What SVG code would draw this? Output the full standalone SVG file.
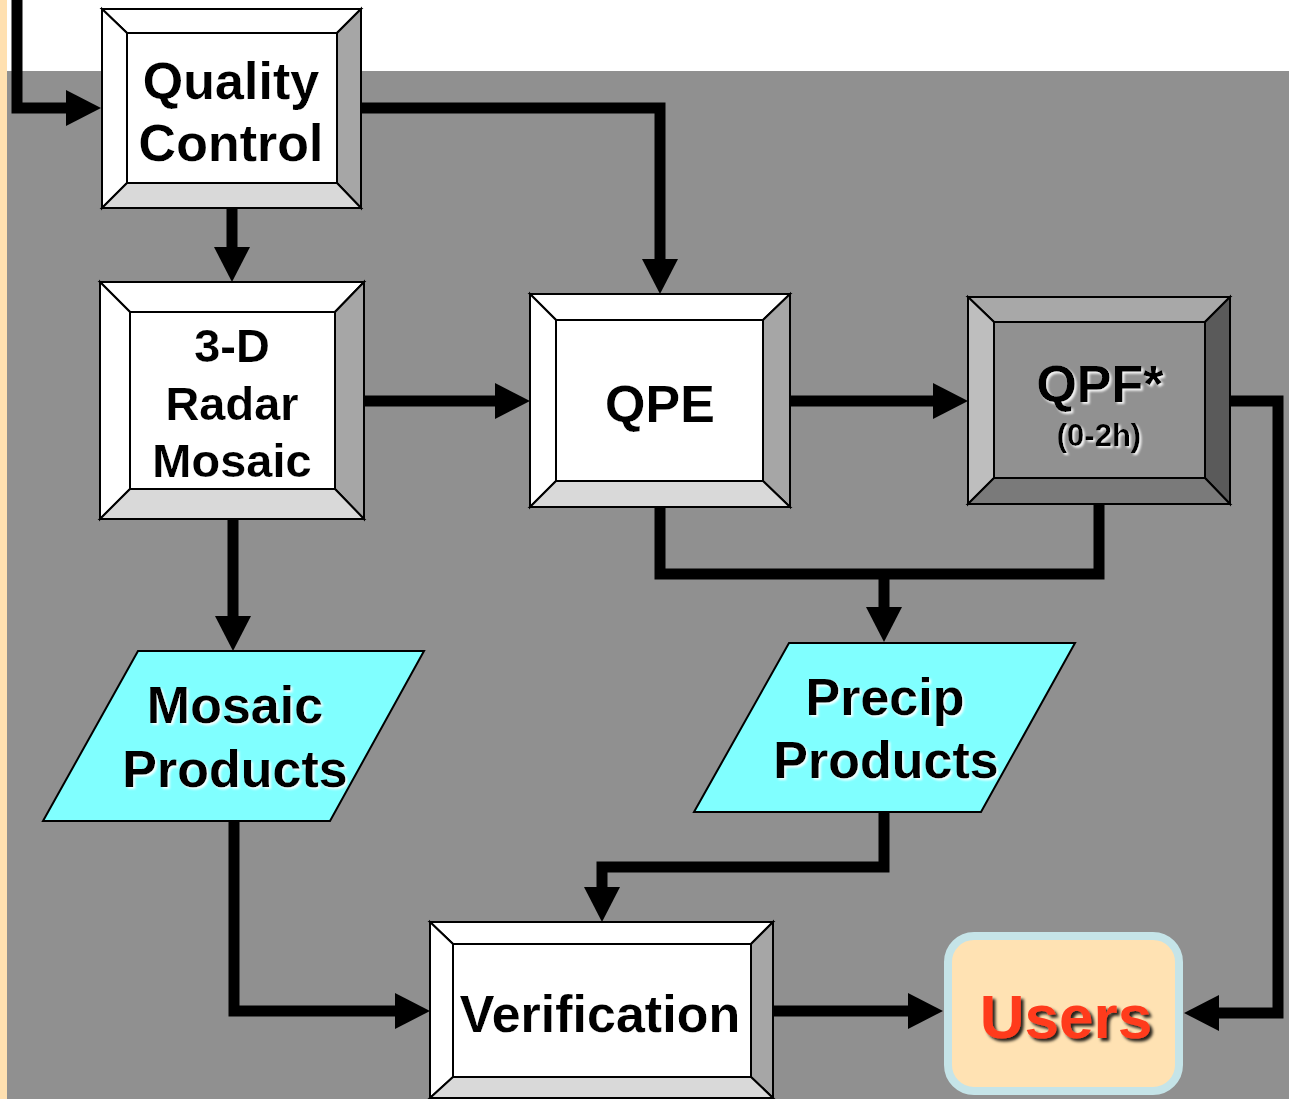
<svg xmlns="http://www.w3.org/2000/svg" width="1289" height="1099" viewBox="0 0 1289 1099">
  <style>
    .lbl { font-family: "Liberation Sans", Arial, sans-serif; font-weight: bold; text-anchor: middle; fill: #000; filter: url(#glow); }
    .edge { fill: none; stroke: #000; stroke-width: 11; stroke-linejoin: miter; marker-end: url(#head); }
    .seg { fill: none; stroke: #000; stroke-width: 11; stroke-linejoin: miter; }
    .bev polygon, .bev rect { stroke: #000; stroke-width: 2; stroke-linejoin: miter; }
    .lt { fill: #FFFFFF; }
    .rt { fill: #A6A6A6; }
    .bt { fill: #D9D9D9; }
    .face { fill: #FFFFFF; }
    .para { fill: #80FFFF; stroke: #000; stroke-width: 2; }
  </style>
  <defs>
    <marker id="head" markerUnits="userSpaceOnUse" markerWidth="36" markerHeight="36" refX="0" refY="18" orient="auto" overflow="visible">
      <path d="M0,0 L35,18 L0,36 Z" fill="#000"/>
    </marker>
    <filter id="glow" x="-10%" y="-10%" width="130%" height="140%">
      <feDropShadow dx="2" dy="2" stdDeviation="1" flood-color="#FFFFFF" flood-opacity="0.9"/>
    </filter>
    <filter id="dark" x="-10%" y="-10%" width="130%" height="140%">
      <feDropShadow dx="3" dy="3" stdDeviation="1.5" flood-color="#000000" flood-opacity="0.85"/>
    </filter>
  </defs>

  <!-- page background -->
  <rect x="0" y="0" width="1289" height="1099" fill="#FFFFFF"/>
  <rect x="7" y="71" width="1282" height="1028" fill="#909090"/>
  <rect x="0" y="0" width="7" height="1099" fill="#FFE0B0"/>

  <!-- connectors -->
  <g id="connectors">
    <path class="edge" d="M17,0 V108 H66"/>
    <path class="edge" d="M361,108 H660 V259"/>
    <path class="edge" d="M232,208 V247"/>
    <path class="edge" d="M364,401 H495"/>
    <path class="edge" d="M790,401 H933"/>
    <path class="edge" d="M1230,401 H1278 V1013 H1219"/>
    <path class="seg" d="M660,507 V574 H1099 V504"/>
    <path class="edge" d="M884,574 V607"/>
    <path class="edge" d="M233,519 V616"/>
    <path class="edge" d="M234,821 V1011 H395"/>
    <path class="edge" d="M884,812 V867 H602 V887"/>
    <path class="edge" d="M773,1011 H908"/>
  </g>

  <!-- Quality Control -->
  <g id="quality-control" class="bev">
    <polygon class="lt" points="102,9 361,9 337,33 127,33"/>
    <polygon class="lt" points="102,9 127,33 127,183 102,208"/>
    <polygon class="rt" points="361,9 361,208 337,183 337,33"/>
    <polygon class="bt" points="102,208 127,183 337,183 361,208"/>
    <rect class="face" x="127" y="33" width="210" height="150"/>
    <text class="lbl" x="231" y="99" font-size="52">Quality</text>
    <text class="lbl" x="231" y="161" font-size="52">Control</text>
  </g>

  <!-- 3-D Radar Mosaic -->
  <g id="radar-mosaic" class="bev">
    <polygon class="lt" points="100,282 364,282 335,312 130,312"/>
    <polygon class="lt" points="100,282 130,312 130,489 100,519"/>
    <polygon class="rt" points="364,282 364,519 335,489 335,312"/>
    <polygon class="bt" points="100,519 130,489 335,489 364,519"/>
    <rect class="face" x="130" y="312" width="205" height="177"/>
    <text class="lbl" x="232" y="362" font-size="47">3-D</text>
    <text class="lbl" x="232" y="420" font-size="47">Radar</text>
    <text class="lbl" x="232" y="477" font-size="47">Mosaic</text>
  </g>

  <!-- QPE -->
  <g id="qpe" class="bev">
    <polygon class="lt" points="530,294 790,294 763,320 556,320"/>
    <polygon class="lt" points="530,294 556,320 556,481 530,507"/>
    <polygon class="rt" points="790,294 790,507 763,481 763,320"/>
    <polygon class="bt" points="530,507 556,481 763,481 790,507"/>
    <rect class="face" x="556" y="320" width="207" height="161"/>
    <text class="lbl" x="660" y="422" font-size="52">QPE</text>
  </g>

  <!-- QPF (0-2h) -->
  <g id="qpf" class="bev">
    <polygon fill="#A8A8A8" points="968,297 1230,297 1205,322 994,322"/>
    <polygon fill="#BEBEBE" points="968,297 994,322 994,478 968,504"/>
    <polygon fill="#5A5A5A" points="1230,297 1230,504 1205,478 1205,322"/>
    <polygon fill="#7A7A7A" points="968,504 994,478 1205,478 1230,504"/>
    <rect fill="#919191" x="994" y="322" width="211" height="156"/>
    <text class="lbl" x="1100" y="402" font-size="52">QPF*</text>
    <text class="lbl" x="1099" y="446" font-size="31">(0-2h)</text>
  </g>

  <!-- Mosaic Products -->
  <g id="mosaic-products">
    <polygon class="para" points="138,651 424,651 330,821 43,821"/>
    <text class="lbl" x="235" y="723" font-size="52">Mosaic</text>
    <text class="lbl" x="235" y="787" font-size="52">Products</text>
  </g>

  <!-- Precip Products -->
  <g id="precip-products">
    <polygon class="para" points="789,643 1075,643 981,812 694,812"/>
    <text class="lbl" x="885" y="715" font-size="52">Precip</text>
    <text class="lbl" x="886" y="778" font-size="52">Products</text>
  </g>

  <!-- Verification -->
  <g id="verification" class="bev">
    <polygon class="lt" points="430,922 773,922 751,944 453,944"/>
    <polygon class="lt" points="430,922 453,944 453,1077 430,1098"/>
    <polygon class="rt" points="773,922 773,1098 751,1077 751,944"/>
    <polygon class="bt" points="430,1098 453,1077 751,1077 773,1098"/>
    <rect class="face" x="453" y="944" width="298" height="133"/>
    <text class="lbl" x="600" y="1032" font-size="52">Verification</text>
  </g>

  <!-- Users -->
  <g id="users">
    <rect x="948" y="936" width="231" height="155" rx="26" ry="26" fill="#FFE2B3" stroke="#C5E4E8" stroke-width="8"/>
    <text x="1066" y="1038" font-family="Liberation Sans, Arial, sans-serif" font-weight="bold" font-size="62" text-anchor="middle" fill="#FF3B1F" filter="url(#dark)">Users</text>
  </g>
</svg>
